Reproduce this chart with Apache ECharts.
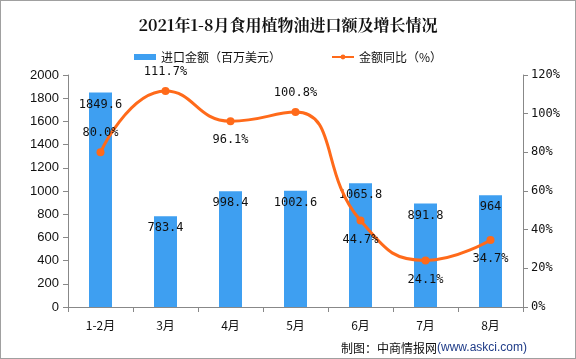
<!DOCTYPE html>
<html><head><meta charset="utf-8">
<script src="https://cdn.jsdelivr.net/npm/echarts@6/dist/echarts.min.js"></script>
<style>html,body{margin:0;padding:0;background:#fff}#c{width:576px;height:359px;box-sizing:border-box;border:1px solid #a0a0a0}</style>
</head><body><div id="c"></div>
<script>
const categories = ['1-2月','3月','4月','5月','6月','7月','8月'];
const importValues = [1849.6, 783.4, 998.4, 1002.6, 1065.8, 891.8, 964];
const yoyValues = [80.0, 111.7, 96.1, 100.8, 44.7, 24.1, 34.7];
const yoyLabelPos = ['top','top','bottom','top','bottom','bottom','bottom'];
const leftTicks = {min:0, max:2000, interval:200};
const rightTicks = {min:0, max:120, interval:20};

const chart = echarts.init(document.getElementById('c'), null, {renderer:'canvas'});
const labelFont = '"DejaVu Sans Mono", "Noto Sans CJK SC", monospace';
chart.setOption({
  animation:false,
  title:{text:'2021年1-8月食用植物油进口额及增长情况', left:'center', top:11,
    textStyle:{fontSize:16, fontWeight:'bold', color:'#111', fontFamily:'"Noto Serif CJK SC","Noto Sans CJK SC",serif'}},
  legend:{top:45, left:'center', itemGap:50, itemWidth:22, itemHeight:6,
    textStyle:{fontSize:12, color:'#111', fontFamily:'"Noto Sans CJK SC",sans-serif'},
    data:[{name:'进口金额（百万美元）', icon:'rect'}, {name:'金额同比（%）'}]},
  grid:{left:67, right:52, top:74, bottom:51},
  xAxis:{type:'category', data:categories,
    axisLine:{lineStyle:{color:'#888'}},
    axisTick:{show:true, length:5, lineStyle:{color:'#888'}},
    axisLabel:{color:'#111', fontSize:12, margin:12, fontFamily:'"Noto Sans CJK SC",sans-serif'}},
  yAxis:[
    {type:'value', min:leftTicks.min, max:leftTicks.max, interval:leftTicks.interval,
     splitLine:{show:false},
     axisLine:{show:true, lineStyle:{color:'#888'}},
     axisTick:{show:true, length:5, lineStyle:{color:'#888'}},
     axisLabel:{color:'#111', fontSize:13, fontFamily:'"Liberation Sans",Arial,sans-serif', margin:9,
       formatter:v=>String(v)}},
    {type:'value', min:rightTicks.min, max:rightTicks.max, interval:rightTicks.interval,
     splitLine:{show:false},
     axisLine:{show:true, lineStyle:{color:'#888'}},
     axisTick:{show:true, length:5, lineStyle:{color:'#888'}},
     axisLabel:{color:'#111', fontSize:12, formatter:'{value}%', fontFamily:labelFont, margin:8}}
  ],
  series:[
    {name:'进口金额（百万美元）', type:'bar', data:importValues, barWidth:23,
     itemStyle:{color:'#3E9FF1'},
     label:{show:true, position:'insideTop', distance:6, color:'#111', fontSize:12, fontFamily:labelFont}},
    {name:'金额同比（%）', type:'line', yAxisIndex:1, smooth:true, data:yoyValues.map((v,i)=>({value:v, label:{position:yoyLabelPos[i]}})),
     symbol:'circle', symbolSize:8,
     lineStyle:{color:'#FF6A1A', width:3}, itemStyle:{color:'#FF6A1A'},
     label:{show:true, distance:9, color:'#111', fontSize:12, fontFamily:labelFont,
       formatter:p=>p.value.toFixed(1)+'%'}}
  ],
  graphic:[{type:'text', right:48, bottom:4, style:{
     rich:{a:{fontSize:12, fill:'#111', fontFamily:'"Noto Sans CJK SC",sans-serif'},
           b:{fontSize:12, fill:'#1F3C88', fontFamily:'"Liberation Sans",Arial,sans-serif'}},
     text:'{a|制图：中商情报网}{b|(www.askci.com)}'}}]
});
</script></body></html>
